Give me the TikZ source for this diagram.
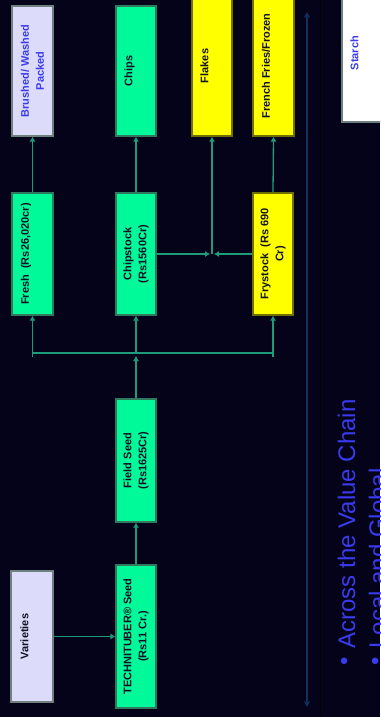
\documentclass[tikz,border=0pt]{standalone}
\usepackage{fontspec}
\setmainfont{Liberation Sans}
\usetikzlibrary{arrows.meta}
\definecolor{bg}{HTML}{04031A}
\definecolor{sgreen}{HTML}{00FA9A}
\definecolor{gborder}{HTML}{2F7A5F}
\definecolor{syellow}{HTML}{FFFF00}
\definecolor{yborder}{HTML}{707000}
\definecolor{slav}{HTML}{DCDCFA}
\definecolor{lborder}{HTML}{6E8080}
\definecolor{boxtext}{HTML}{121226}
\definecolor{bluetext}{HTML}{3B3BF0}
\definecolor{conncol}{HTML}{1E9C7A}
\definecolor{navyline}{HTML}{12305E}
\definecolor{bigblue}{HTML}{3A3AEE}
\begin{document}
\begin{tikzpicture}[x=1pt,y=-1pt,
  box/.style={draw, line width=1.2pt, rotate=90, inner sep=0pt, align=center,
    font=\fontsize{11}{15}\selectfont\bfseries, text=boxtext},
  gbox/.style={box, fill=sgreen, draw=gborder},
  ybox/.style={box, fill=syellow, draw=yborder},
  lbox/.style={box, fill=slav, draw=lborder},
  wbox/.style={box, fill=white, draw=lborder},
  connline/.style={draw=conncol, line width=1.3pt},
  conn/.style={connline, -{Latex[length=5pt,width=6pt]}},
  bigtext/.style={rotate=90, inner sep=0pt, anchor=base west, text=bigblue,
    font=\fontsize{24}{30}\selectfont},
]
\useasboundingbox (0,0) rectangle (380,717);
\clip (0,0) rectangle (380,717);
\fill[bg] (0,0) rectangle (380,717);
\draw[black, line width=1pt] (320,0) -- (320,717);

% top row
\node[lbox, text=bluetext, minimum width=130pt, minimum height=41pt] (brushed) at (32.5,71) {Brushed/ Washed\\Packed};
\node[gbox, minimum width=130pt, minimum height=40pt] (chips) at (136,71) {Chips\\~};
\node[ybox, minimum width=140pt, minimum height=40pt] (flakes) at (212,66) {Flakes\\~};
\node[ybox, minimum width=140pt, minimum height=41pt] (fries) at (273.5,66) {French Fries/Frozen\\~};
\node[wbox, text=bluetext, minimum width=138pt, minimum height=40pt] (starch) at (362,53) {Starch\\~};

% middle row
\node[gbox, minimum width=122pt, minimum height=41pt] (fresh) at (32.5,254) {Fresh\ \ (Rs26,020cr)\\~};
\node[gbox, minimum width=122pt, minimum height=40pt] (chipstock) at (136,254) {Chipstock\\(Rs1560Cr)};
\node[ybox, minimum width=122pt, minimum height=40pt] (frystock) at (273,254) {Frystock\ \ (Rs 690\\Cr)};

% lower
\node[gbox, minimum width=123pt, minimum height=40pt] (fieldseed) at (136,460.5) {Field Seed\\(Rs1625Cr)};
\node[gbox, minimum width=143pt, minimum height=40pt] (techni) at (136,636.5) {TECHNITUBER® Seed\\(Rs11 Cr.)};
\node[lbox, minimum width=131pt, minimum height=42pt] (varieties) at (32,636.5) {Varieties\\~};

% connectors
\coordinate (busL) at (32.5,353);
\coordinate (busM) at (136,353);
\coordinate (busR) at (273,353);
\coordinate (busLs) at (32.5,357);
\coordinate (busRs) at (273,357);
\coordinate (J) at (212,254);

\draw[conn] (varieties.south) -- (techni.north);
\draw[conn] (techni.east) -- (fieldseed.west);
\draw[conn, shorten >=3pt] (fieldseed.east) -- (busM);
\draw[connline] (busLs) -- (busL) -- (busR) -- (busRs);
\draw[conn] (busL) -- (fresh.west);
\draw[conn] (busM) -- (chipstock.west);
\draw[conn] (busR) -- (frystock.west);
\draw[conn] (fresh.east) -- (brushed.west);
\draw[conn] (chipstock.east) -- (chips.west);
\draw[conn] (frystock.east) -- (fries.west);
\draw[conn, shorten >=2pt] (chipstock.south) -- (J);
\draw[conn, shorten >=2pt] (frystock.north) -- (J);
\draw[conn] (J) -- (flakes.west);

% navy double arrow
\coordinate (vtop) at (307,12);
\coordinate (vbot) at (307,707);
\draw[navyline, line width=1.3pt, {Stealth[length=6pt,width=6pt]}-{Stealth[length=6pt,width=6pt]}] (vtop) -- (vbot);

% big bullets
\node[bigtext] (line1) at (355,666) {\raisebox{3pt}{•}\hspace{9pt}Across the Value Chain};
\node[bigtext] (line2) at (386,666) {\raisebox{3pt}{•}\hspace{9pt}Local and Global};
\end{tikzpicture}
\end{document}
